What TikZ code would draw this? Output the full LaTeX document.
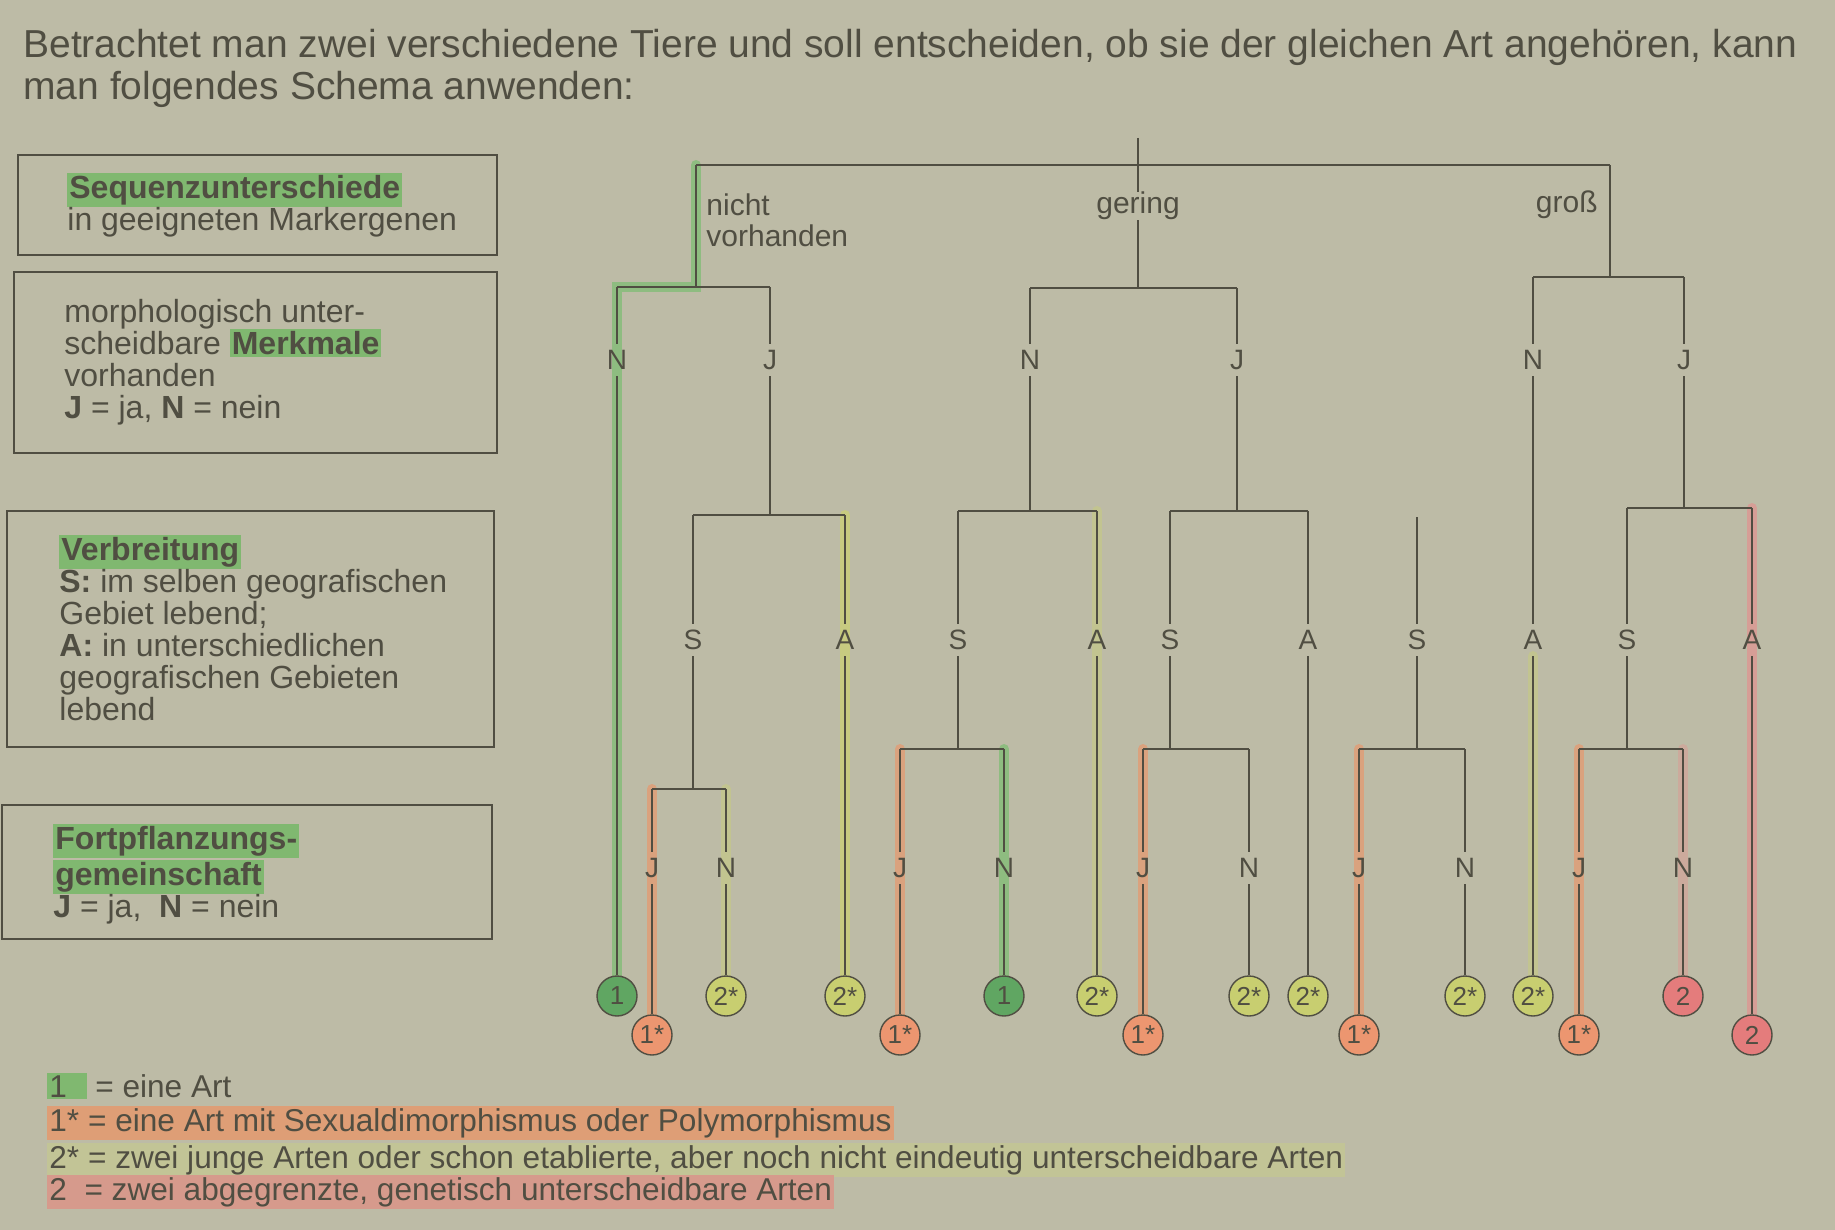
\documentclass[tikz,border=0pt]{standalone}
\usepackage{fontspec}
\setmainfont{Liberation Sans}
\usetikzlibrary{positioning,backgrounds}

\definecolor{paper}{RGB}{189,187,166}
\definecolor{ink}{RGB}{80,78,66}
\definecolor{glowgreen}{RGB}{112,190,104}
\definecolor{gloworange}{RGB}{238,146,100}
\definecolor{glowyellow}{RGB}{206,214,104}
\definecolor{glowred}{RGB}{232,140,140}
\definecolor{mkgreen}{RGB}{128,184,112}
\definecolor{mkorange}{RGB}{222,158,118}
\definecolor{mkyellow}{RGB}{194,196,150}
\definecolor{mkred}{RGB}{214,154,140}
\definecolor{leafgreen}{RGB}{96,166,98}
\definecolor{leaforange}{RGB}{236,150,112}
\definecolor{leafyellow}{RGB}{200,206,112}
\definecolor{leafred}{RGB}{228,124,124}

\newcommand\hlword[2]{{\setlength{\fboxsep}{1pt}\colorbox{#1}{#2}}}

\tikzset{
  branch/.style={draw=ink, line width=1.4pt},
  box/.style={draw=ink, line width=0.7pt},
  lbl/.style={text=ink, inner sep=3pt, font=\fontsize{14}{14}\selectfont},
  word/.style={text=ink, inner sep=0pt, font=\fontsize{15}{15.5}\selectfont},
  boxtext/.style={text=ink, inner sep=0pt, align=left, anchor=north west,
    font=\fontsize{16}{16}\selectfont},
  legend/.style={text=ink, inner sep=0pt, anchor=base west,
    font=\fontsize{15.8}{15.8}\selectfont},
  leaf/.style={circle, draw=ink, line width=0.7pt, minimum size=20pt,
    inner sep=0pt, text=ink, font=\fontsize{13}{13}\selectfont},
  one/.style={leaf, fill=leafgreen},
  onestar/.style={leaf, fill=leaforange},
  twostar/.style={leaf, fill=leafyellow},
  two/.style={leaf, fill=leafred},
  glow/.style={draw=#1, line width=5pt, opacity=0.6, line cap=round}
}

\begin{document}
\begin{tikzpicture}[x=0.5pt, y=-0.5pt]
  \useasboundingbox (0,0) rectangle (1835,1230);

  % heading
  \node[text=ink, inner sep=0pt, anchor=base west, font=\fontsize{19.5}{19.5}\selectfont]
    (head1) at (23,58) {Betrachtet man zwei verschiedene Tiere und soll entscheiden, ob sie der gleichen Art angehören, kann};
  \node[text=ink, inner sep=0pt, anchor=base west, font=\fontsize{19.5}{19.5}\selectfont]
    (head2) at (23,100) {man folgendes Schema anwenden:};

  % criteria boxes
  \draw[box] (18,155) rectangle (497,255);
  \node[boxtext] (seq) at (67,173) {\hlword{mkgreen}{\textbf{Sequenzunterschiede}}\\in geeigneten Markergenen};
  \draw[box] (14,272) rectangle (497,453);
  \node[boxtext] (morph) at (64,299) {morphologisch unter-\\scheidbare \hlword{mkgreen}{\textbf{Merkmale}}\\vorhanden\\\textbf{J} = ja, \textbf{N} = nein};
  \draw[box] (7,511) rectangle (494,747);
  \node[boxtext] (verb) at (59,535) {\hlword{mkgreen}{\textbf{Verbreitung}}\\\textbf{S:} im selben geografischen\\Gebiet lebend;\\\textbf{A:} in unterschiedlichen\\geografischen Gebieten\\lebend};
  \draw[box] (2,805) rectangle (492,939);
  \node[boxtext] (fort) at (53,824) {\hlword{mkgreen}{\textbf{Fortpflanzungs-}}\\\hlword{mkgreen}{\textbf{gemeinschaft}}\\\textbf{J} = ja,\ \ \textbf{N} = nein};

  % sequence differences
  \coordinate (top) at (1138,138);
  \coordinate (r0) at (1138,165);
  \coordinate (a0) at (696,165);
  \coordinate (c0) at (1610,165);
  \node[word] (ge) at (1138,206) {gering};
  \node[word, align=left, anchor=north west] (nv) at (706,193) {nicht\\vorhanden};
  \node[word, anchor=east] (gr) at (1598,205) {groß};
  \draw[branch] (top) -- (r0);
  \draw[branch] (a0) -- (c0);

  \coordinate (a1) at (696,287);
  \coordinate (aL) at (617,287);
  \coordinate (aR) at (770,287);
  \coordinate (b1) at (1138,288);
  \coordinate (bL) at (1030,288);
  \coordinate (bR) at (1237,288);
  \coordinate (c1) at (1610,277);
  \coordinate (cL) at (1533,277);
  \coordinate (cR) at (1684,277);
  \draw[branch] (a0) -- (a1);
  \draw[branch] (r0) -- (ge) -- (b1);
  \draw[branch] (c0) -- (c1);
  \draw[branch] (aL) -- (aR);
  \draw[branch] (bL) -- (bR);
  \draw[branch] (cL) -- (cR);

  % morphological features
  \node[lbl] (aN) at (617,360) {N};
  \node[lbl] (aJ) at (770,360) {J};
  \node[lbl] (bN) at (1030,360) {N};
  \node[lbl] (bJ) at (1237,360) {J};
  \node[lbl] (cN) at (1533,360) {N};
  \node[lbl] (cJ) at (1684,360) {J};

  \coordinate (aJ1) at (770,515);
  \coordinate (aJL) at (693,515);
  \coordinate (aJR) at (845,515);
  \coordinate (bN1) at (1030,511);
  \coordinate (bNL) at (958,511);
  \coordinate (bNR) at (1097,511);
  \coordinate (bJ1) at (1237,511);
  \coordinate (bJL) at (1170,511);
  \coordinate (bJR) at (1308,511);
  \coordinate (xS0) at (1417,517);
  \coordinate (cJ1) at (1684,508);
  \coordinate (cJL) at (1627,508);
  \coordinate (cJR) at (1752,508);
  \draw[branch] (aR) -- (aJ) -- (aJ1);
  \draw[branch] (bL) -- (bN) -- (bN1);
  \draw[branch] (bR) -- (bJ) -- (bJ1);
  \draw[branch] (cR) -- (cJ) -- (cJ1);
  \draw[branch] (aJL) -- (aJR);
  \draw[branch] (bNL) -- (bNR);
  \draw[branch] (bJL) -- (bJR);
  \draw[branch] (cJL) -- (cJR);

  % distribution
  \node[lbl] (aJS) at (693,640) {S};
  \node[lbl] (aJA) at (845,640) {A};
  \node[lbl] (bNS) at (958,640) {S};
  \node[lbl] (bNA) at (1097,640) {A};
  \node[lbl] (bJS) at (1170,640) {S};
  \node[lbl] (bJA) at (1308,640) {A};
  \node[lbl] (xS) at (1417,640) {S};
  \node[lbl] (cNA) at (1533,640) {A};
  \node[lbl] (cJS) at (1627,640) {S};
  \node[lbl] (cJA) at (1752,640) {A};

  \coordinate (aJS1) at (693,789);
  \coordinate (aJSL) at (652,789);
  \coordinate (aJSR) at (726,789);
  \coordinate (bNS1) at (958,749);
  \coordinate (bNSL) at (900,749);
  \coordinate (bNSR) at (1004,749);
  \coordinate (bJS1) at (1170,749);
  \coordinate (bJSL) at (1143,749);
  \coordinate (bJSR) at (1249,749);
  \coordinate (xS1) at (1417,749);
  \coordinate (xSL) at (1359,749);
  \coordinate (xSR) at (1465,749);
  \coordinate (cJS1) at (1627,749);
  \coordinate (cJSL) at (1579,749);
  \coordinate (cJSR) at (1683,749);
  \draw[branch] (aJL) -- (aJS) -- (aJS1);
  \draw[branch] (bNL) -- (bNS) -- (bNS1);
  \draw[branch] (bJL) -- (bJS) -- (bJS1);
  \draw[branch] (xS0) -- (xS) -- (xS1);
  \draw[branch] (cJL) -- (cJS) -- (cJS1);
  \draw[branch] (aJSL) -- (aJSR);
  \draw[branch] (bNSL) -- (bNSR);
  \draw[branch] (bJSL) -- (bJSR);
  \draw[branch] (xSL) -- (xSR);
  \draw[branch] (cJSL) -- (cJSR);

  % reproductive community
  \node[lbl] (aJSJ) at (652,868) {J};
  \node[lbl] (aJSN) at (726,868) {N};
  \node[lbl] (bNSJ) at (900,868) {J};
  \node[lbl] (bNSN) at (1004,868) {N};
  \node[lbl] (bJSJ) at (1143,868) {J};
  \node[lbl] (bJSN) at (1249,868) {N};
  \node[lbl] (xSJ) at (1359,868) {J};
  \node[lbl] (xSN) at (1465,868) {N};
  \node[lbl] (cJSJ) at (1579,868) {J};
  \node[lbl] (cJSN) at (1683,868) {N};

  % results
  \node[one] (l1) at (617,996) {1};
  \node[onestar] (l2) at (652,1035) {1*};
  \node[twostar] (l3) at (726,996) {2*};
  \node[twostar] (l4) at (845,996) {2*};
  \node[onestar] (l5) at (900,1035) {1*};
  \node[one] (l6) at (1004,996) {1};
  \node[twostar] (l7) at (1097,996) {2*};
  \node[onestar] (l8) at (1143,1035) {1*};
  \node[twostar] (l9) at (1249,996) {2*};
  \node[twostar] (l10) at (1308,996) {2*};
  \node[onestar] (l11) at (1359,1035) {1*};
  \node[twostar] (l12) at (1465,996) {2*};
  \node[twostar] (l13) at (1533,996) {2*};
  \node[onestar] (l14) at (1579,1035) {1*};
  \node[two] (l15) at (1683,996) {2};
  \node[two] (l16) at (1752,1035) {2};

  \draw[branch] (aL) -- (aN) -- (l1);
  \draw[branch] (aJSL) -- (aJSJ) -- (l2);
  \draw[branch] (aJSR) -- (aJSN) -- (l3);
  \draw[branch] (aJR) -- (aJA) -- (l4);
  \draw[branch] (bNSL) -- (bNSJ) -- (l5);
  \draw[branch] (bNSR) -- (bNSN) -- (l6);
  \draw[branch] (bNR) -- (bNA) -- (l7);
  \draw[branch] (bJSL) -- (bJSJ) -- (l8);
  \draw[branch] (bJSR) -- (bJSN) -- (l9);
  \draw[branch] (bJR) -- (bJA) -- (l10);
  \draw[branch] (xSL) -- (xSJ) -- (l11);
  \draw[branch] (xSR) -- (xSN) -- (l12);
  \draw[branch] (cL) -- (cN) -- (cNA) -- (l13);
  \draw[branch] (cJSL) -- (cJSJ) -- (l14);
  \draw[branch] (cJSR) -- (cJSN) -- (l15);
  \draw[branch] (cJR) -- (cJA) -- (l16);

  % legend
  \node[legend] (k1) at (47,1097) {\hlword{mkgreen}{1\ \ }\ = eine Art};
  \node[legend] (k2) at (47,1131) {\hlword{mkorange}{1* = eine Art mit Sexualdimorphismus oder Polymorphismus}};
  \node[legend] (k3) at (47,1168) {\hlword{mkyellow}{2* = zwei junge Arten oder schon etablierte, aber noch nicht eindeutig unterscheidbare Arten}};
  \node[legend] (k4) at (47,1200) {\hlword{mkred}{2 \ = zwei abgegrenzte, genetisch unterscheidbare Arten}};

  % paper and marker strokes
  \begin{scope}[on background layer]
    \fill[paper] (0,0) rectangle (1835,1230);
    \draw[glow=glowgreen] (a0) -- (a1) -- (aL) -- (l1);
    \draw[glow=glowgreen] (bNSR) -- (l6);
    \draw[glow=gloworange] (aJSL) -- (l2);
    \draw[glow=gloworange] (bNSL) -- (l5);
    \draw[glow=gloworange] (bJSL) -- (l8);
    \draw[glow=gloworange] (xSL) -- (l11);
    \draw[glow=gloworange] (cJSL) -- (l14);
    \draw[glow=glowyellow] (aJR) -- (l4);
    \draw[glow=glowyellow, opacity=0.35] (aJSR) -- (l3);
    \draw[glow=glowyellow, opacity=0.35] (bNR) -- (l7);
    \draw[glow=glowyellow, opacity=0.35] (cNA) -- (l13);
    \draw[glow=glowred] (cJR) -- (l16);
    \draw[glow=glowred, opacity=0.35] (cJSR) -- (l15);
  \end{scope}
\end{tikzpicture}
\end{document}
